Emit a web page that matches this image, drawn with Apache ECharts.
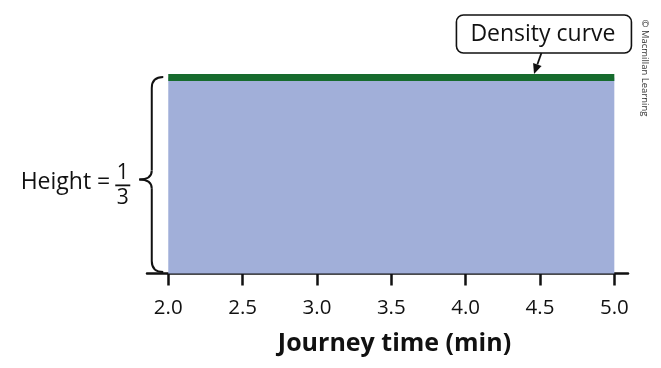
<!DOCTYPE html>
<html>
<head>
<meta charset="utf-8">
<script src="https://cdn.jsdelivr.net/npm/echarts@6/dist/echarts.min.js"></script>
<style>
html,body{margin:0;padding:0;background:#fff;}
#c{width:661px;height:368px;}
</style>
</head>
<body>
<div id="c"></div>
<script>
// Data
const journeyTimes = [2.0, 5.0];
const densityValues = [1/3, 1/3];
const tickValues = [2.0, 2.5, 3.0, 3.5, 4.0, 4.5, 5.0];
const axisTitle = 'Journey time (min)';
const calloutText = 'Density curve';
const calloutX = 4.46;
const heightLabel = 'Height =';
const fracNum = '1';
const fracDen = '3';
const credit = '© Macmillan Learning';

const FONT = '"Open Sans", "Noto Sans", sans-serif';
const chart = echarts.init(document.getElementById('c'), null, {renderer: 'canvas'});

const option = {
  animation: false,
  backgroundColor: '#ffffff',
  grid: {left: 147, right: 33, top: 77.5, bottom: 94.5},
  xAxis: {
    type: 'value',
    min: 1.857,
    max: 5.092,
    name: axisTitle,
    nameLocation: 'middle',
    nameGap: 58,
    nameTextStyle: {fontFamily: FONT, fontWeight: 'bold', fontSize: 25, color: '#111', padding: [0, 0, 0, 14]},
    axisLine: {show: true, onZero: false, lineStyle: {color: '#111', width: 2.5}},
    axisTick: {show: true, inside: false, length: 12, customValues: tickValues, lineStyle: {color: '#111', width: 2.5}},
    axisLabel: {show: true, margin: 24, customValues: tickValues, fontFamily: FONT, fontSize: 20.5, color: '#111',
      formatter: v => Number(v).toFixed(1)},
    splitLine: {show: false}
  },
  yAxis: {
    type: 'value', min: 0, max: 1/3, show: false, splitLine: {show: false}
  },
  series: [{
    type: 'line',
    data: journeyTimes.map((x, i) => [x, densityValues[i]]),
    symbol: 'none',
    clip: false,
    lineStyle: {color: '#166b2d', width: 7, cap: 'butt'},
    areaStyle: {color: '#a1afd9', opacity: 1}
  }]
};
chart.setOption(option);

function drawAnnotations() {
  const pT = chart.convertToPixel({xAxisIndex: 0, yAxisIndex: 0}, [journeyTimes[0], densityValues[0]]);
  const pB = chart.convertToPixel({xAxisIndex: 0, yAxisIndex: 0}, [journeyTimes[0], 0]);
  const tip = chart.convertToPixel({xAxisIndex: 0, yAxisIndex: 0}, [calloutX, densityValues[0]]);
  const xs = pT[0];
  const yT = pT[1] - 0.5;
  const yB = pB[1] - 1.5;
  const yM = yT + 0.525 * (yB - yT);
  const xv = xs - 16.5;
  const xp = xs - 29;
  const xe = xs - 5;
  const bs = {fill: null, stroke: '#111', lineWidth: 2};
  const braceParts = [
    {type: 'bezierCurve', shape: {x1: xe, y1: yT, x2: xv, y2: yT + 11, cpx1: xv, cpy1: yT}, style: bs},
    {type: 'line', shape: {x1: xv, y1: yT + 11, x2: xv, y2: yM - 9}, style: bs},
    {type: 'bezierCurve', shape: {x1: xv, y1: yM - 9, x2: xp, y2: yM, cpx1: xv, cpy1: yM}, style: bs},
    {type: 'bezierCurve', shape: {x1: xp, y1: yM, x2: xv, y2: yM + 9, cpx1: xv, cpy1: yM}, style: bs},
    {type: 'line', shape: {x1: xv, y1: yM + 9, x2: xv, y2: yB - 11}, style: bs},
    {type: 'bezierCurve', shape: {x1: xv, y1: yB - 11, x2: xe, y2: yB, cpx1: xv, cpy1: yB}, style: bs}
  ];

  // arrow
  const tipX = tip[0], tipY = tip[1] - 3.5;
  const startX = tipX + 7.4, startY = tipY - 21;
  const dx = tipX - startX, dy = tipY - startY;
  const len = Math.sqrt(dx * dx + dy * dy);
  const ux = dx / len, uy = dy / len;
  const hl = 10, hw = 4.5;
  const bx = tipX - ux * hl, by = tipY - uy * hl;
  const boxL = tipX - 77.6, boxT = tipY - 59, boxW = 175, boxH = 38;

  const fracX = xs - 45.5;
  chart.setOption({
    graphic: braceParts.concat([
      {type: 'text', x: xs - 58, y: yM + 3, style: {text: heightLabel, fontFamily: FONT, fontSize: 23, fill: '#111', align: 'right', verticalAlign: 'middle'}},
      {type: 'text', x: fracX, y: yM - 6.5, style: {text: fracNum, fontFamily: FONT, fontSize: 21, fill: '#111', align: 'center', verticalAlign: 'middle'}},
      {type: 'line', shape: {x1: fracX - 7.5, y1: yM + 6, x2: fracX + 7.5, y2: yM + 6}, style: {stroke: '#111', lineWidth: 1.8}},
      {type: 'text', x: fracX, y: yM + 18.5, style: {text: fracDen, fontFamily: FONT, fontSize: 21, fill: '#111', align: 'center', verticalAlign: 'middle'}},
      {type: 'rect', shape: {x: boxL, y: boxT, width: boxW, height: boxH, r: 7}, style: {fill: '#fff', stroke: '#111', lineWidth: 1.6}},
      {type: 'text', x: boxL + boxW / 2 - 1, y: boxT + boxH / 2, style: {text: calloutText, fontFamily: FONT, fontSize: 23, fill: '#111', align: 'center', verticalAlign: 'middle'}},
      {type: 'line', shape: {x1: startX, y1: startY, x2: bx, y2: by}, style: {stroke: '#111', lineWidth: 1.8}},
      {type: 'polygon', shape: {points: [[tipX, tipY], [bx - uy * hw, by + ux * hw], [bx + uy * hw, by - ux * hw]]}, style: {fill: '#111'}},
      {type: 'text', x: 645, y: 68, rotation: -Math.PI / 2, style: {text: credit, fontFamily: FONT, fontSize: 9.5, fill: '#333', align: 'center', verticalAlign: 'middle'}}
    ])
  });
}
drawAnnotations();
</script>
</body>
</html>
